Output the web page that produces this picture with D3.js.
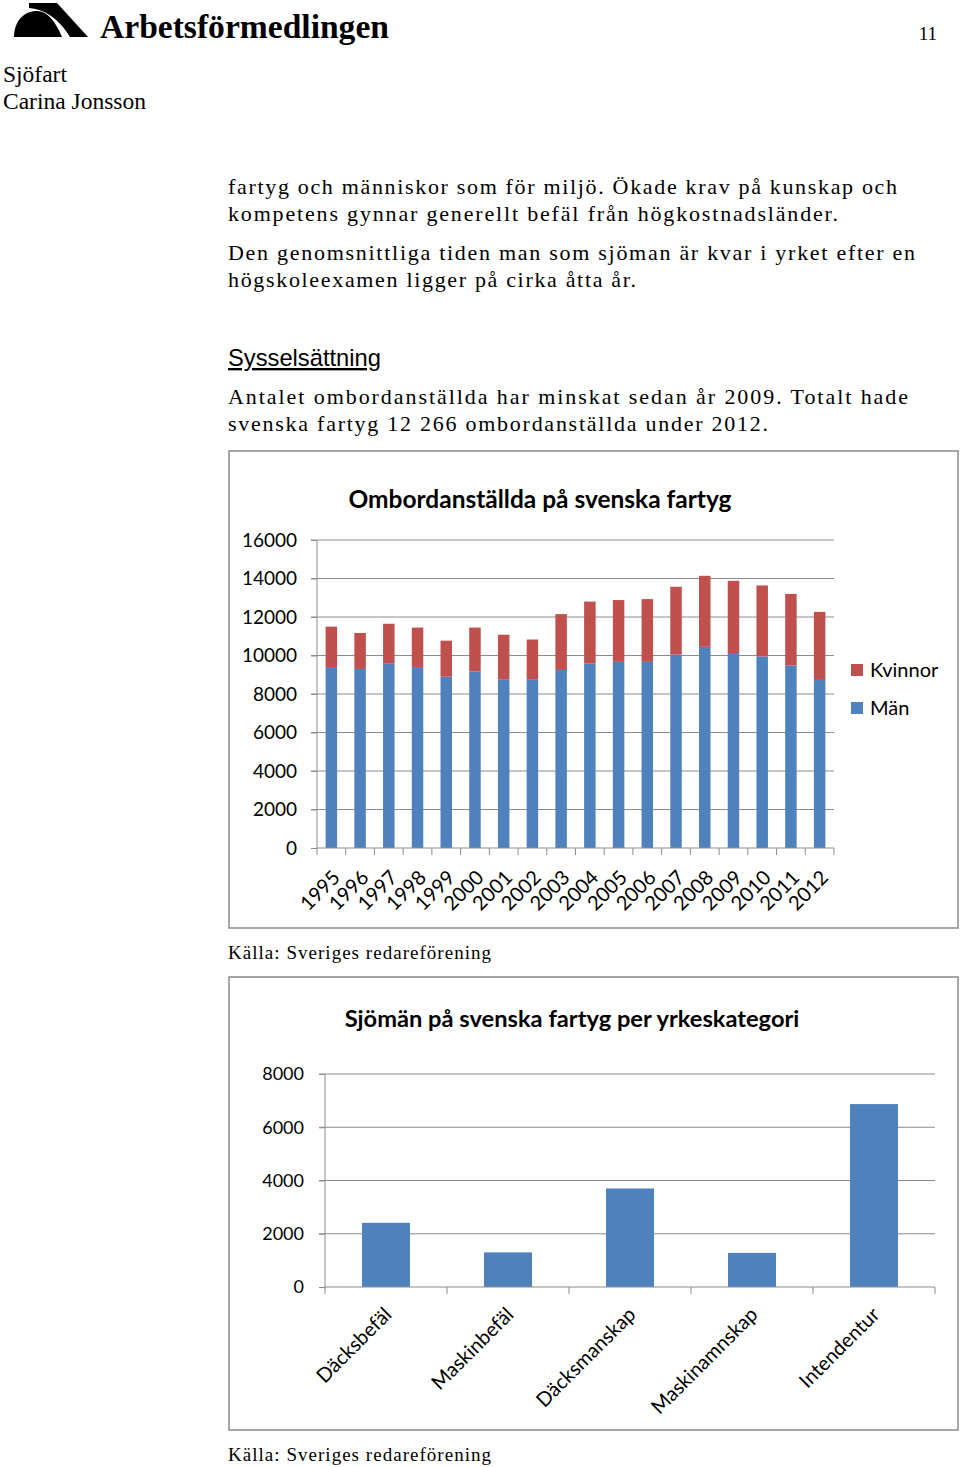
<!DOCTYPE html>
<html>
<head>
<meta charset="utf-8">
<script src="https://cdn.jsdelivr.net/npm/d3@7"></script>
<style>
  html, body { margin: 0; padding: 0; background: #fff; }
  svg { display: block; }
</style>
</head>
<body>
<svg id="page" width="960" height="1467"></svg>
<script>
// ---------- DATA ----------
const years = ["1995","1996","1997","1998","1999","2000","2001","2002","2003","2004","2005","2006","2007","2008","2009","2010","2011","2012"];
const man     = [9400, 9300, 9600, 9400, 8900, 9170, 8770, 8770, 9250, 9590, 9670, 9670, 10050, 10450, 10130, 9950, 9480, 8780];
const kvinnor = [2100, 1870, 2050, 2050, 1870, 2280, 2310, 2060, 2900, 3210, 3210, 3260, 3520, 3690, 3750, 3690, 3720, 3486];
const ticks1 = [0, 2000, 4000, 6000, 8000, 10000, 12000, 14000, 16000];
const seriesNames = ["Kvinnor", "Män"];

const categories = ["Däcksbefäl", "Maskinbefäl", "Däcksmanskap", "Maskinamnskap", "Intendentur"];
const catValues  = [2410, 1300, 3700, 1280, 6870];
const ticks2 = [0, 2000, 4000, 6000, 8000];

const bodyLines1 = [
  "fartyg och människor som för miljö. Ökade krav på kunskap och",
  "kompetens gynnar generellt befäl från högkostnadsländer.",
  "Den genomsnittliga tiden man som sjöman är kvar i yrket efter en",
  "högskoleexamen ligger på cirka åtta år."
];
const bodyLines2 = [
  "Antalet ombordanställda har minskat sedan år 2009. Totalt hade",
  "svenska fartyg 12 266 ombordanställda under 2012."
];

// ---------- STYLE ----------
const BLUE = "#4f81bd", RED = "#c0504d", GRID = "#8c8c8c";
const SERIF = "'Liberation Serif', 'Times New Roman', serif";
const CHARTF = "Lato, 'Open Sans', sans-serif";

const svg = d3.select("#page");

function fitWidth(sel, w) {
  const node = sel.node();
  const fs = parseFloat(sel.attr("font-size"));
  const cur = node.getComputedTextLength();
  if (cur > 0) sel.attr("font-size", (fs * w / cur).toFixed(2));
  return sel;
}

// ---------- HEADER ----------
const logo = svg.append("g");
logo.append("path").attr("d", "M29,3 L57,3 L88,37 L70,37 C62,24 50,10 29,8 Z").attr("fill", "#000");
logo.append("path").attr("d", "M14,37 C14,21 24,11 37,11 C48,11 56,23 62,37 Z").attr("fill", "#000");

fitWidth(svg.append("text").attr("x", 100).attr("y", 38)
  .attr("font-family", SERIF).attr("font-weight", "bold").attr("font-size", 32)
  .text("Arbetsförmedlingen"), 289);
svg.append("text").attr("x", 937).attr("y", 40).attr("text-anchor", "end")
  .attr("font-family", SERIF).attr("font-size", 19).text("11");
fitWidth(svg.append("text").attr("x", 3).attr("y", 82)
  .attr("font-family", SERIF).attr("font-size", 21).text("Sjöfart"), 64);
fitWidth(svg.append("text").attr("x", 3).attr("y", 109)
  .attr("font-family", SERIF).attr("font-size", 21).text("Carina Jonsson"), 143);

// ---------- BODY TEXT ----------
const bodyW1 = [669, 610, 687, 408];
const bodyY1 = [194, 221, 260, 287];
bodyLines1.forEach((t, i) => {
  svg.append("text").attr("x", 228).attr("y", bodyY1[i])
    .attr("font-family", SERIF).attr("font-size", 22)
    .attr("textLength", bodyW1[i]).attr("lengthAdjust", "spacing").text(t);
});
const sys = svg.append("text").attr("x", 228).attr("y", 366)
  .attr("font-family", "'Liberation Sans', Arial, sans-serif").attr("font-size", 21)
  .attr("text-decoration", "underline").text("Sysselsättning");
fitWidth(sys, 153);
const bodyW2 = [680, 540];
const bodyY2 = [404, 431];
bodyLines2.forEach((t, i) => {
  svg.append("text").attr("x", 228).attr("y", bodyY2[i])
    .attr("font-family", SERIF).attr("font-size", 22)
    .attr("textLength", bodyW2[i]).attr("lengthAdjust", "spacing").text(t);
});

// ---------- CHART 1 ----------
svg.append("rect").attr("x", 229).attr("y", 451).attr("width", 729).attr("height", 477)
  .attr("fill", "#fff").attr("stroke", "#8a8a8a").attr("stroke-width", 1.5);

fitWidth(svg.append("text").attr("x", 540).attr("y", 508).attr("text-anchor", "middle")
  .attr("font-family", CHARTF).attr("font-weight", "bold").attr("font-size", 22)
  .text("Ombordanställda på svenska fartyg"), 383);

const x1 = d3.scaleBand().domain(years).range([317, 834]).paddingInner(0.6).paddingOuter(0.3);
const y1 = d3.scaleLinear().domain([0, 16000]).range([848, 540]);

const g1 = svg.append("g");
g1.selectAll("line.grid").data(ticks1.filter(d => d > 0)).join("line")
  .attr("x1", 311).attr("x2", 834).attr("y1", d => y1(d)).attr("y2", d => y1(d))
  .attr("stroke", GRID).attr("stroke-width", 1);
const yAx1 = g1.append("g").attr("transform", "translate(317,0)")
  .call(d3.axisLeft(y1).tickValues(ticks1).tickSize(6).tickPadding(14).tickFormat(d3.format("d")));
yAx1.select(".domain").attr("stroke", GRID).attr("d", "M0,540V848");
yAx1.selectAll(".tick line").attr("stroke", GRID);
yAx1.selectAll(".tick text").attr("font-family", CHARTF).attr("font-size", 19).attr("fill", "#000");

const stackData = years.map((yr, i) => ({ year: yr, "Män": man[i], "Kvinnor": kvinnor[i] }));
const stacked = d3.stack().keys(["Män", "Kvinnor"])(stackData);
const colors = { "Män": BLUE, "Kvinnor": RED };
g1.selectAll("g.series").data(stacked).join("g").attr("fill", d => colors[d.key])
  .selectAll("rect").data(d => d).join("rect")
  .attr("x", d => x1(d.data.year)).attr("width", x1.bandwidth())
  .attr("y", d => y1(d[1])).attr("height", d => y1(d[0]) - y1(d[1]));

const step1 = (834 - 317) / years.length;
g1.append("line").attr("x1", 317).attr("x2", 834).attr("y1", 848).attr("y2", 848).attr("stroke", GRID);
g1.selectAll("line.xt").data(d3.range(years.length + 1)).join("line")
  .attr("x1", d => 317 + d * step1).attr("x2", d => 317 + d * step1)
  .attr("y1", 848).attr("y2", 855).attr("stroke", GRID);
g1.selectAll("text.xl").data(years).join("text")
  .attr("transform", d => `translate(${x1(d) + x1.bandwidth() / 2},${869}) rotate(-45)`)
  .attr("text-anchor", "end").attr("dy", "0.7em")
  .attr("font-family", CHARTF).attr("font-size", 20).text(d => d);

const leg = g1.selectAll("g.leg").data(seriesNames).join("g")
  .attr("transform", (d, i) => `translate(851,${664 + i * 38})`);
leg.append("rect").attr("width", 12).attr("height", 12).attr("fill", d => colors[d]);
leg.append("text").attr("x", 19).attr("y", 13).attr("font-family", CHARTF)
  .attr("font-size", 20).text(d => d);

svg.append("text").attr("x", 228).attr("y", 959).attr("font-family", SERIF).attr("font-size", 19)
  .attr("textLength", 263).attr("lengthAdjust", "spacing").text("Källa: Sveriges redareförening");

// ---------- CHART 2 ----------
svg.append("rect").attr("x", 229).attr("y", 977).attr("width", 729).attr("height", 453)
  .attr("fill", "#fff").attr("stroke", "#8a8a8a").attr("stroke-width", 1.5);

fitWidth(svg.append("text").attr("x", 572).attr("y", 1027).attr("text-anchor", "middle")
  .attr("font-family", CHARTF).attr("font-weight", "bold").attr("font-size", 22)
  .text("Sjömän på svenska fartyg per yrkeskategori"), 455);

const x2 = d3.scaleBand().domain(categories).range([325, 935]).paddingInner(0.607).paddingOuter(0.3035);
const y2 = d3.scaleLinear().domain([0, 8000]).range([1287, 1074]);
const g2 = svg.append("g");
g2.selectAll("line.grid").data(ticks2.filter(d => d > 0)).join("line")
  .attr("x1", 319).attr("x2", 935).attr("y1", d => y2(d)).attr("y2", d => y2(d))
  .attr("stroke", GRID);
const yAx2 = g2.append("g").attr("transform", "translate(325,0)")
  .call(d3.axisLeft(y2).tickValues(ticks2).tickSize(6).tickPadding(15).tickFormat(d3.format("d")));
yAx2.select(".domain").attr("stroke", GRID).attr("d", "M0,1074V1287");
yAx2.selectAll(".tick line").attr("stroke", GRID);
yAx2.selectAll(".tick text").attr("font-family", CHARTF).attr("font-size", 18).attr("fill", "#000");

g2.selectAll("rect.bar").data(categories).join("rect")
  .attr("x", d => x2(d)).attr("width", x2.bandwidth())
  .attr("y", (d, i) => y2(catValues[i])).attr("height", (d, i) => y2(0) - y2(catValues[i]))
  .attr("fill", BLUE);

const step2 = (935 - 325) / categories.length;
g2.append("line").attr("x1", 325).attr("x2", 935).attr("y1", 1287).attr("y2", 1287).attr("stroke", GRID);
g2.selectAll("line.xt").data(d3.range(categories.length + 1)).join("line")
  .attr("x1", d => 325 + d * step2).attr("x2", d => 325 + d * step2)
  .attr("y1", 1287).attr("y2", 1294).attr("stroke", GRID);
g2.selectAll("text.xl").data(categories).join("text")
  .attr("transform", d => `translate(${x2(d) + x2.bandwidth() / 2 - 3},${1306}) rotate(-45)`)
  .attr("text-anchor", "end").attr("dy", "0.7em")
  .attr("font-family", CHARTF).attr("font-size", 20).text(d => d);

svg.append("text").attr("x", 228).attr("y", 1461).attr("font-family", SERIF).attr("font-size", 19)
  .attr("textLength", 263).attr("lengthAdjust", "spacing").text("Källa: Sveriges redareförening");
</script>
</body>
</html>
